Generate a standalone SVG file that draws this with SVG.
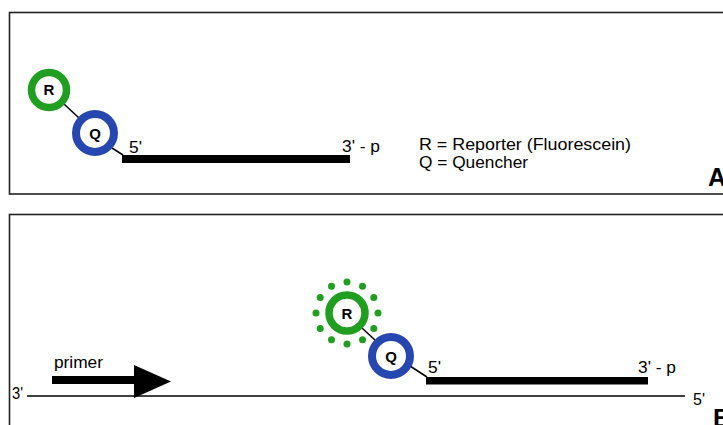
<svg xmlns="http://www.w3.org/2000/svg" width="723" height="425" viewBox="0 0 723 425">
<style>
.box{fill:none;stroke:#222;stroke-width:1.6}
.rep{fill:#fff;stroke:#1f9e1f;stroke-width:7.5}
.que{fill:#fff;stroke:#2747b0;stroke-width:8}
.lbl{font-family:"Liberation Sans",Arial,sans-serif;font-size:16px;fill:#000}
.circ{font-family:"Liberation Sans",Arial,sans-serif;font-size:15px;font-weight:bold;fill:#000;text-anchor:middle}
.big{font-family:"Liberation Sans",Arial,sans-serif;font-size:25px;font-weight:bold;fill:#000}
.link{stroke:#000;stroke-width:1.5;fill:none}
.dot{fill:#1f9e1f}
</style>
<rect width="723" height="425" fill="#fff"/>
<g id="panelA">
<rect class="box" x="9.5" y="12.5" width="800" height="181.5"/>
<text class="big" x="708" y="186">A</text>
</g>
<g id="panelB">
<rect class="box" x="9.5" y="214.5" width="800" height="300"/>
<text class="big" x="713" y="427">B</text>
</g>
<g id="connectors">
<line class="link" x1="64" y1="104" x2="79" y2="118"/>
<line class="link" x1="112" y1="148" x2="123" y2="155"/>
<line class="link" x1="362" y1="328" x2="375" y2="340"/>
<line class="link" x1="410" y1="366" x2="427" y2="377"/>
<line x1="27" y1="396" x2="685" y2="396" stroke="#000" stroke-width="1.5"/>
</g>
<g id="probeA">
<rect x="122" y="155" width="228" height="8" fill="#000"/>
<text class="lbl" x="129" y="153" textLength="13" lengthAdjust="spacingAndGlyphs">5'</text>
<text class="lbl" x="342" y="152" textLength="38" lengthAdjust="spacingAndGlyphs">3' - p</text>
</g>
<g id="reporterA">
<circle class="rep" cx="49" cy="90" r="17.5"/>
<text class="circ" x="49" y="95">R</text>
</g>
<g id="quencherA">
<circle class="que" cx="95" cy="133" r="19"/>
<text class="circ" x="95" y="138.5">Q</text>
</g>
<g id="legend">
<text class="lbl" x="419" y="150" textLength="212" lengthAdjust="spacingAndGlyphs">R = Reporter (Fluorescein)</text>
<text class="lbl" x="419" y="168" textLength="109" lengthAdjust="spacingAndGlyphs">Q = Quencher</text>
</g>
<g id="template">
<text class="lbl" x="12" y="399" textLength="11" lengthAdjust="spacingAndGlyphs">3'</text>
<text class="lbl" x="693" y="405" textLength="12" lengthAdjust="spacingAndGlyphs">5'</text>
</g>
<g id="primer">
<rect x="52" y="376" width="84" height="8" fill="#000"/>
<polygon points="134,365 171,381.5 134,398" fill="#000"/>
<text class="lbl" x="54" y="368" textLength="49" lengthAdjust="spacingAndGlyphs">primer</text>
</g>
<g id="probeB">
<rect x="426" y="377" width="222" height="7.5" fill="#000"/>
<text class="lbl" x="428" y="373" textLength="13" lengthAdjust="spacingAndGlyphs">5'</text>
<text class="lbl" x="638" y="373" textLength="38" lengthAdjust="spacingAndGlyphs">3' - p</text>
</g>
<g id="reporterB">
<g class="dot">
<circle cx="347" cy="282" r="3.5"/>
<circle cx="362.5" cy="286.2" r="3.5"/>
<circle cx="373.8" cy="297.5" r="3.5"/>
<circle cx="378" cy="313" r="3.5"/>
<circle cx="373.8" cy="328.5" r="3.5"/>
<circle cx="362.5" cy="339.8" r="3.5"/>
<circle cx="347" cy="344" r="3.5"/>
<circle cx="331.5" cy="339.8" r="3.5"/>
<circle cx="320.2" cy="328.5" r="3.5"/>
<circle cx="316" cy="313" r="3.5"/>
<circle cx="320.2" cy="297.5" r="3.5"/>
<circle cx="331.5" cy="286.2" r="3.5"/>
</g>
<circle class="rep" cx="347" cy="313" r="18"/>
<text class="circ" x="347" y="318.5">R</text>
</g>
<g id="quencherB">
<circle class="que" cx="391" cy="356" r="19"/>
<text class="circ" x="391" y="361.5">Q</text>
</g>
</svg>
